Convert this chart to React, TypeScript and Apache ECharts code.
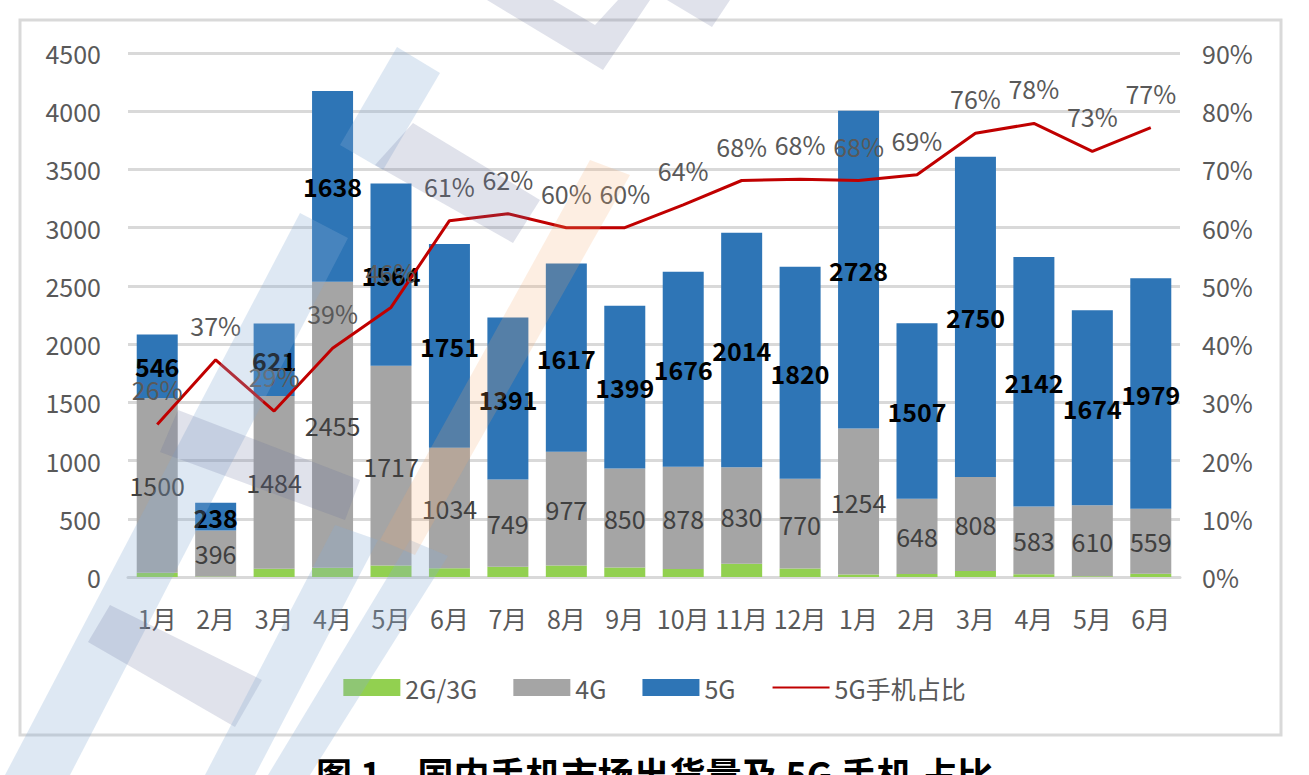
import React, { useEffect, useRef } from "react";
import * as echarts from "echarts";

const categories = ["1月","2月","3月","4月","5月","6月","7月","8月","9月","10月","11月","12月","1月","2月","3月","4月","5月","6月"];
const g23 = [36, 4, 71, 80, 98, 75, 88, 99, 81, 68, 113, 74, 21, 25, 51, 23, 6, 27];
const g4 = [1500, 396, 1484, 2455, 1717, 1034, 749, 977, 850, 878, 830, 770, 1254, 648, 808, 583, 610, 559];
const g5 = [546, 238, 621, 1638, 1564, 1751, 1391, 1617, 1399, 1676, 2014, 1820, 2728, 1507, 2750, 2142, 1674, 1979];
const share = [26.2, 37.3, 28.5, 39.3, 46.3, 61.2, 62.4, 60.0, 60.0, 63.9, 68.1, 68.3, 68.1, 69.1, 76.2, 77.9, 73.1, 77.2];
const leftTicks = [0, 500, 1000, 1500, 2000, 2500, 3000, 3500, 4000, 4500];
const title = "图 1　国内手机市场出货量及 5G 手机 占比";

const FONT = "'Noto Sans CJK SC', 'Noto Sans', sans-serif";

// faint watermark pieces (decorative logo over the chart)
const LB = "rgba(138,172,212,0.28)";
const GB = "rgba(100,110,155,0.20)";
const OR = "rgba(245,170,110,0.20)";
const watermark: { pts: number[][]; fill: string }[] = [
  { pts: [[487, 0], [553, 0], [595, 25], [618, 0], [650, 0], [603, 70]], fill: GB },
  { pts: [[667, 0], [730, 0], [712, 27]], fill: GB },
  { pts: [[397, 47], [440, 73], [383, 170], [340, 145]], fill: LB },
  { pts: [[413, 123], [540, 200], [513, 243], [375, 165]], fill: GB },
  { pts: [[300, 213], [348, 238], [70, 775], [5, 775]], fill: LB },
  { pts: [[178, 410], [360, 480], [345, 520], [160, 452]], fill: GB },
  { pts: [[110, 605], [262, 680], [235, 727], [88, 642]], fill: GB },
  { pts: [[335, 525], [378, 540], [255, 775], [205, 775]], fill: LB },
  { pts: [[410, 540], [448, 556], [310, 775], [268, 775]], fill: LB },
  { pts: [[590, 160], [630, 175], [415, 555], [380, 540]], fill: OR },
];

export default function App() {
  const ref = useRef<HTMLDivElement>(null);
  useEffect(() => {
    if (!ref.current) return;
    const chart = echarts.init(ref.current, null, { renderer: "svg" });
    chart.setOption({
      animation: false,
      backgroundColor: "#ffffff",
      textStyle: { fontFamily: FONT },
      grid: { left: 128, right: 129, top: 53, bottom: 198 },
      legend: {
        bottom: 70,
        left: "center",
        itemWidth: 57,
        itemHeight: 17,
        itemGap: 36,
        textStyle: { color: "#595959", fontSize: 25, fontFamily: FONT },
        data: [
          { name: "2G/3G", icon: "rect" },
          { name: "4G", icon: "rect" },
          { name: "5G", icon: "rect" },
          { name: "5G手机占比" },
        ],
      },
      xAxis: {
        type: "category",
        data: categories,
        axisLine: { lineStyle: { color: "#D9D9D9", width: 3 } },
        axisTick: { show: false },
        axisLabel: { interval: 0, color: "#595959", fontSize: 25, margin: 28 },
      },
      yAxis: [
        {
          type: "value",
          min: leftTicks[0],
          max: leftTicks[leftTicks.length - 1],
          interval: 500,
          axisLine: { show: false },
          axisTick: { show: false },
          splitLine: { lineStyle: { color: "#D9D9D9", width: 3 } },
          axisLabel: { color: "#595959", fontSize: 25, margin: 27, formatter: (v: number) => String(v) },
        },
        {
          type: "value",
          min: 0,
          max: 90,
          interval: 10,
          axisLine: { show: false },
          axisTick: { show: false },
          splitLine: { show: false },
          axisLabel: { color: "#595959", fontSize: 25, margin: 22, formatter: "{value}%" },
        },
      ],
      series: [
        {
          name: "2G/3G",
          type: "bar",
          stack: "t",
          data: g23,
          barWidth: 41,
          itemStyle: { color: "#92D050" },
        },
        {
          name: "4G",
          type: "bar",
          stack: "t",
          data: g4,
          itemStyle: { color: "#A5A5A5" },
          label: { show: true, position: "inside", color: "#404040", fontSize: 25, fontFamily: FONT },
        },
        {
          name: "5G",
          type: "bar",
          stack: "t",
          data: g5,
          itemStyle: { color: "#2E75B6" },
          label: { show: true, position: "inside", color: "#000000", fontSize: 25, fontWeight: "bold", fontFamily: FONT },
        },
        {
          name: "5G手机占比",
          type: "line",
          yAxisIndex: 1,
          data: share,
          symbol: "circle",
          symbolSize: 1,
          showSymbol: true,
          lineStyle: { color: "#C00000", width: 3 },
          itemStyle: { color: "rgba(192,0,0,0)" },
          label: {
            show: true,
            position: "top",
            distance: 22,
            color: "#595959",
            fontSize: 25,
            fontFamily: FONT,
            formatter: (p: any) => Math.round(p.value) + "%",
          },
          z: 5,
        },
      ],
      graphic: [
        {
          type: "rect",
          shape: { x: 20, y: 20, width: 1261, height: 715 },
          style: { fill: "none", stroke: "#D9D9D9", lineWidth: 3 },
          silent: true,
          z: -1,
        },
        {
          type: "text",
          left: "center",
          top: 755,
          style: { text: title, font: "bold 36px " + FONT, fill: "#000000" },
        },
        ...watermark.map((w) => ({
          type: "polygon",
          shape: { points: w.pts },
          style: { fill: w.fill },
          silent: true,
          z: 100,
        })),
      ],
    });
    return () => chart.dispose();
  }, []);
  return <div ref={ref} style={{ position: "fixed", left: 0, top: 0, width: 1309, height: 775 }} />;
}
